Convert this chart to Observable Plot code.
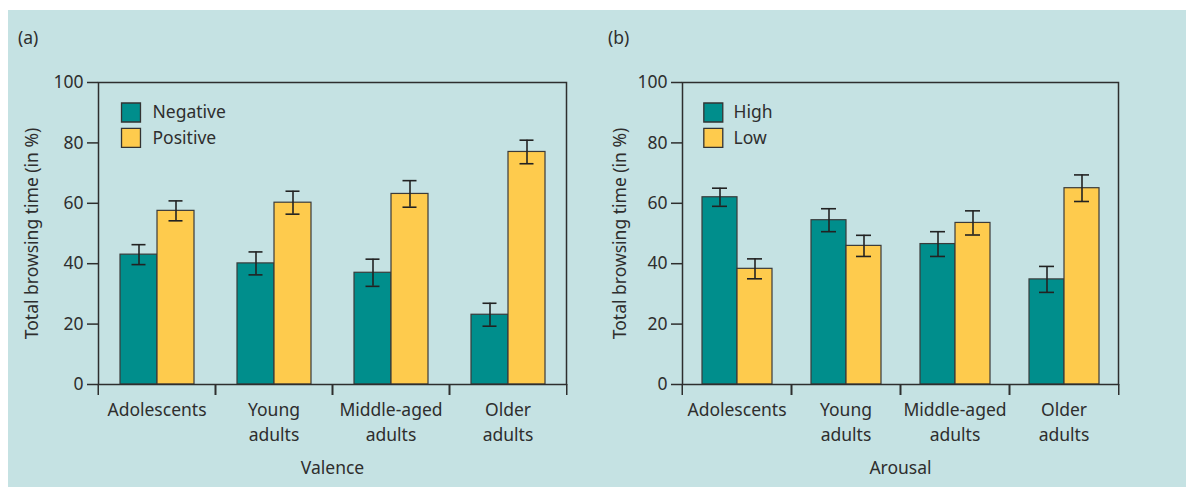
<!DOCTYPE html>
<html><head><meta charset="utf-8">
<script src="https://cdn.jsdelivr.net/npm/d3@7"></script>
<script src="https://cdn.jsdelivr.net/npm/@observablehq/plot@0.6"></script>
<style>
body{margin:0;background:#fff;}
#bg{position:absolute;left:8px;top:10px;width:1178px;height:477px;background:#c5e2e3;}
.panel{position:absolute;top:0;}
.tag{position:absolute;font-family:"Noto Sans";font-size:17.5px;color:#2e2e2e;}
</style></head><body>
<div id="bg">
  <div class="tag" style="left:10px;top:15px">(a)</div>
  <div class="tag" style="left:600px;top:15px">(b)</div>
  <div class="panel" id="pa" style="left:0px"></div>
  <div class="panel" id="pb" style="left:580px"></div>
</div>
<script>
// ---- data ----
const groups = ["Adolescents", "Young adults", "Middle-aged adults", "Older adults"];
const groupTickLabels = ["Adolescents", "Young\nadults", "Middle-aged\nadults", "Older\nadults"];
const yTicks = [0, 20, 40, 60, 80, 100];
const yLabel = "Total browsing time (in %)";

const valenceSeries = ["Negative", "Positive"];
const valenceNegative = [43, 40.1, 37, 23.1];
const valenceNegativeErr = [3.3, 3.8, 4.5, 3.8];
const valencePositive = [57.5, 60.2, 63.1, 77];
const valencePositiveErr = [3.3, 3.8, 4.4, 3.9];

const arousalSeries = ["High", "Low"];
const arousalHigh = [62, 54.4, 46.5, 34.8];
const arousalHighErr = [3, 3.8, 4.1, 4.3];
const arousalLow = [38.3, 45.9, 53.5, 65];
const arousalLowErr = [3.3, 3.5, 4, 4.4];

const colors = ["#008e8c", "#fecb4d"];

function rowsOf(series, vals, errs) {
  const rows = [];
  groups.forEach((g, i) => series.forEach((s, j) => rows.push({group: g, series: s, value: vals[j][i], err: errs[j][i]})));
  return rows;
}

function panel({series, vals, errs, xLabel, width, marginLeft, marginRight, yLabelOffset, capInset, legendDx, legendTextDx}) {
  const height = 477, marginTop = 72, marginBottom = 103;
  const rows = rowsOf(series, vals, errs);
  const fw = (width - marginLeft - marginRight) / groups.length;
  const tickLab = new Map(groups.map((g, i) => [g, groupTickLabels[i]]));
  const ink = "#2e2e2e";
  return Plot.plot({
    width, height, marginLeft, marginRight, marginTop, marginBottom,
    style: {fontSize: "17.5px", fontFamily: "Noto Sans", color: ink, background: "transparent", overflow: "visible"},
    fx: {domain: groups, padding: 0},
    x: {domain: series, paddingInner: 0, paddingOuter: 0.55, axis: null},
    y: {domain: [0, 100]},
    color: {domain: series, range: colors},
    marks: [
      Plot.barY(rows, {fx: "group", x: "series", y: "value", fill: "series", stroke: "#3a3a3a", strokeWidth: 1.2}),
      Plot.ruleX(rows, {fx: "group", x: "series", y1: d => d.value - d.err, y2: d => d.value + d.err, stroke: "#222", strokeWidth: 1.6}),
      Plot.tickY(rows, {fx: "group", x: "series", y: d => d.value - d.err, insetLeft: capInset, insetRight: capInset, stroke: "#222", strokeWidth: 1.6}),
      Plot.tickY(rows, {fx: "group", x: "series", y: d => d.value + d.err, insetLeft: capInset, insetRight: capInset, stroke: "#222", strokeWidth: 1.6}),
      Plot.frame({facet: "super", stroke: ink, strokeWidth: 1.5}),
      Plot.axisY({ticks: yTicks, tickSize: 11, tickPadding: 4, strokeWidth: 1.5, label: yLabel, labelAnchor: "center", labelArrow: "none", labelOffset: yLabelOffset}),
      Plot.axisFx({anchor: "bottom", tickSize: 0, tickPadding: 13, lineHeight: 1.45, tickFormat: g => tickLab.get(g), label: xLabel, labelAnchor: "center", labelArrow: "none", labelOffset: 89}),
      Plot.axisFx({anchor: "bottom", tickSize: 11, strokeWidth: 1.5, tickFormat: () => "", label: null, dx: -fw / 2}),
      Plot.axisFx({anchor: "bottom", tickSize: 11, strokeWidth: 1.5, tickFormat: () => "", label: null, dx: fw / 2}),
      ...series.map((s, i) => Plot.dot([s], {facet: "super", frameAnchor: "top-left", dx: legendDx, dy: 30 + i * 25.4, symbol: "square", r: 10.7, fill: d => d, stroke: "#333", strokeWidth: 1.3})),
      ...series.map((s, i) => Plot.text([s], {facet: "super", frameAnchor: "top-left", dx: legendTextDx, dy: 30 + i * 25.4, text: d => d, textAnchor: "start", lineAnchor: "middle", fill: ink}))
    ]
  });
}

document.getElementById("pa").append(panel({
  series: valenceSeries, vals: [valenceNegative, valencePositive], errs: [valenceNegativeErr, valencePositiveErr],
  xLabel: "Valence", width: 580, marginLeft: 89, marginRight: 21, yLabelOffset: 73, capInset: 11.5, legendDx: 32.5, legendTextDx: 54
}));
document.getElementById("pb").append(panel({
  series: arousalSeries, vals: [arousalHigh, arousalLow], errs: [arousalHighErr, arousalLowErr],
  xLabel: "Arousal", width: 598, marginLeft: 93, marginRight: 67, yLabelOffset: 69, capInset: 10, legendDx: 30.8, legendTextDx: 51
}));
</script>
</body></html>
